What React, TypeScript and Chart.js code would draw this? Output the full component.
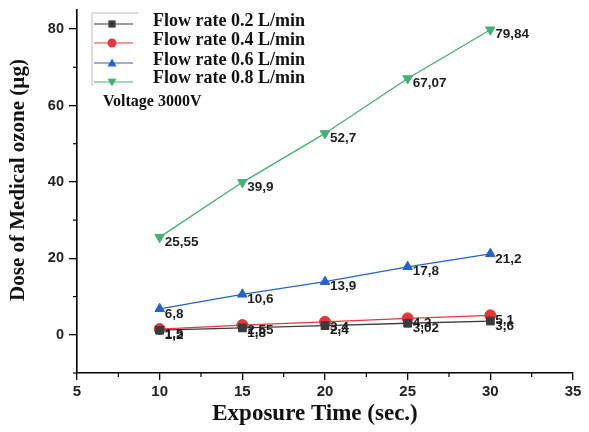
import React, { useEffect, useRef } from "react";
import { Chart, registerables } from "chart.js";

Chart.register(...registerables);

const times = [10, 15, 20, 25, 30];
const flow02 = [1.2, 1.8, 2.4, 3.02, 3.6];
const flow04 = [1.5, 2.55, 3.4, 4.3, 5.1];
const flow06 = [6.8, 10.6, 13.9, 17.8, 21.2];
const flow08 = [25.55, 39.9, 52.7, 67.07, 79.84];
const seriesNames = ["Flow rate 0.2 L/min", "Flow rate 0.4 L/min", "Flow rate 0.6 L/min", "Flow rate 0.8 L/min"];
const yTicks = [0, 20, 40, 60, 80];
const xMinor = [7.5, 12.5, 17.5, 22.5, 27.5, 32.5];
const yMinor = [-10, 10, 30, 50, 70];
const note = "Voltage 3000V";
const xTitle = "Exposure Time (sec.)";
const yTitle = "Dose of Medical ozone (µg)";

const colors = ["#3b3b3b", "#e4383d", "#2563c9", "#48b074"];
const styles: any[] = ["rect", "circle", "triangle", "triangle"];
const rotations = [0, 0, 0, 180];

const SERIF = "'Liberation Serif', 'Times New Roman', serif";
const SANS = "'Liberation Sans', Arial, sans-serif";

const fmt = (v: number) => String(v).replace(".", ",");

function marker(ctx: CanvasRenderingContext2D, i: number, x: number, y: number, r: number) {
  ctx.beginPath();
  if (i === 0) {
    ctx.rect(x - r * 0.8, y - r * 0.8, r * 1.6, r * 1.6);
  } else if (i === 1) {
    ctx.arc(x, y, r, 0, Math.PI * 2);
  } else if (i === 2) {
    ctx.moveTo(x, y - r);
    ctx.lineTo(x + r, y + r * 0.75);
    ctx.lineTo(x - r, y + r * 0.75);
    ctx.closePath();
  } else {
    ctx.moveTo(x, y + r);
    ctx.lineTo(x + r, y - r * 0.75);
    ctx.lineTo(x - r, y - r * 0.75);
    ctx.closePath();
  }
  ctx.fill();
}

const extrasPlugin = {
  id: "extras",
  afterDatasetsDraw(chart: any) {
    const ctx = chart.ctx;
    const xs = chart.scales.x;
    const ys = chart.scales.y;
    ctx.save();
    // minor ticks
    ctx.strokeStyle = "#000";
    ctx.lineWidth = 1.2;
    xMinor.forEach((v) => {
      const px = xs.getPixelForValue(v);
      ctx.beginPath();
      ctx.moveTo(px, ys.bottom);
      ctx.lineTo(px, ys.bottom + 4);
      ctx.stroke();
    });
    yMinor.forEach((v) => {
      const py = ys.getPixelForValue(v);
      ctx.beginPath();
      ctx.moveTo(xs.left, py);
      ctx.lineTo(xs.left - 4, py);
      ctx.stroke();
    });
    // data labels
    ctx.fillStyle = "#1e1e1e";
    ctx.font = `bold 13.5px ${SANS}`;
    ctx.textBaseline = "middle";
    ctx.textAlign = "left";
    chart.data.datasets.forEach((ds: any) => {
      ds.data.forEach((p: any) => {
        const px = xs.getPixelForValue(p.x);
        const py = ys.getPixelForValue(p.y);
        ctx.fillText(fmt(p.y), px + 5, py + 5);
      });
    });
    // legend
    ctx.strokeStyle = "#bbb";
    ctx.lineWidth = 1;
    ctx.beginPath();
    ctx.moveTo(92, 86);
    ctx.lineTo(92, 13);
    ctx.lineTo(138, 13);
    ctx.stroke();
    const markRows = [24, 43, 63, 82];
    const textRows = [21, 40, 60, 78];
    seriesNames.forEach((name, i) => {
      const y = markRows[i];
      ctx.strokeStyle = colors[i];
      ctx.lineWidth = 1.2;
      ctx.beginPath();
      ctx.moveTo(94, y);
      ctx.lineTo(133, y);
      ctx.stroke();
      ctx.fillStyle = colors[i];
      marker(ctx, i, 112, y, 4.5);
      ctx.fillStyle = "#111";
      ctx.font = `bold 18px ${SERIF}`;
      ctx.textBaseline = "middle";
      ctx.textAlign = "left";
      ctx.fillText(name, 153, textRows[i]);
    });
    ctx.font = `bold 16px ${SERIF}`;
    ctx.fillText(note, 103, 102);
    // axis titles
    ctx.fillStyle = "#111";
    ctx.textAlign = "center";
    ctx.textBaseline = "middle";
    ctx.font = `bold 23px ${SERIF}`;
    ctx.fillText(xTitle, 315, 414);
    ctx.save();
    ctx.translate(19, 180);
    ctx.rotate(-Math.PI / 2);
    ctx.font = `bold 21px ${SERIF}`;
    ctx.fillText(yTitle, 0, 0);
    ctx.restore();
    ctx.restore();
  },
};

function makeDataset(i: number, values: number[]) {
  return {
    label: seriesNames[i],
    data: times.map((t, k) => ({ x: t, y: values[k] })),
    borderColor: colors[i],
    backgroundColor: colors[i],
    borderWidth: 1.3,
    pointStyle: styles[i],
    pointRotation: rotations[i],
    pointRadius: 5.5,
    pointBorderWidth: 1,
    showLine: true,
    tension: 0,
  };
}

export default function App() {
  const ref = useRef<HTMLCanvasElement>(null);
  useEffect(() => {
    if (!ref.current) return;
    const chart = new Chart(ref.current, {
      type: "scatter",
      data: {
        datasets: [
          makeDataset(0, flow02),
          makeDataset(1, flow04),
          makeDataset(2, flow06),
          makeDataset(3, flow08),
        ],
      },
      options: {
        animation: false,
        responsive: false,
        layout: { padding: { top: 10, right: 16, left: 0, bottom: 0 } },
        plugins: { legend: { display: false }, tooltip: { enabled: false } },
        scales: {
          x: {
            type: "linear",
            min: 5,
            max: 35,
            ticks: {
              stepSize: 5,
              color: "#222",
              font: { family: SANS, weight: "bold", size: 15 },
              padding: 3,
            },
            grid: { drawOnChartArea: false, drawTicks: true, tickLength: 7, color: "#000", lineWidth: 1.3 },
            border: { display: true, color: "#000", width: 1.6 },
            afterFit: (s: any) => {
              s.height = 59;
              s.paddingLeft = 0;
              s.paddingRight = 0;
            },
          },
          y: {
            type: "linear",
            min: -10,
            max: 85,
            afterBuildTicks: (s: any) => {
              s.ticks = yTicks.map((v) => ({ value: v }));
            },
            ticks: {
              color: "#222",
              font: { family: SANS, weight: "bold", size: 14.5 },
              padding: 5,
            },
            grid: { drawOnChartArea: false, drawTicks: true, tickLength: 8, color: "#000", lineWidth: 1.3 },
            border: { display: true, color: "#000", width: 1.6 },
            afterFit: (s: any) => {
              s.width = 77;
              s.paddingTop = 0;
              s.paddingBottom = 0;
            },
          },
        },
      },
      plugins: [extrasPlugin],
    } as any);
    return () => chart.destroy();
  }, []);
  return (
    <div style={{ position: "fixed", left: 0, top: 0, width: 589, height: 432, background: "#fff" }}>
      <canvas ref={ref} width={589} height={432} style={{ width: 589, height: 432 }} />
    </div>
  );
}
